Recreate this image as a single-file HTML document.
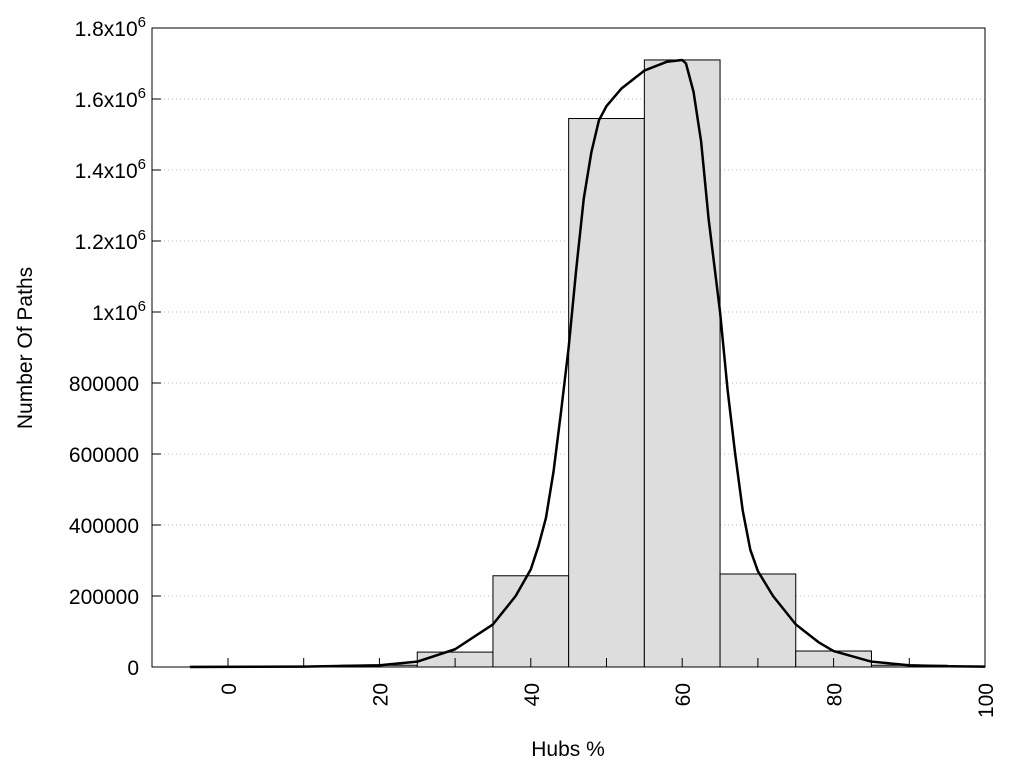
<!DOCTYPE html>
<html><head><meta charset="utf-8"><style>body{margin:0;background:#fff}svg{display:block;font-family:"Liberation Sans",Arial,sans-serif}</style></head>
<body>
<svg id="s" width="1024" height="768" xmlns="http://www.w3.org/2000/svg"></svg>
<script>
const L=152,R=985,T=28,B=667;
const X=u=>228+(u)*(985-228)/100;
const Y=v=>B-v*(B-T)/1.8e6;
let h='';
for(let i=1;i<9;i++){const y=Y(i*2e5);h+=`<line x1="${L}" x2="${R}" y1="${y}" y2="${y}" stroke="#bbb" stroke-dasharray="1,3"/>`;}
const bars=[[0,2000],[10,1500],[20,5000],[30,42000],[40,257000],[50,1545000],[60,1710000],[70,262000],[80,45000],[90,5000]];
for(const [c,v] of bars){const x1=X(c-5),x2=X(c+5),y=Y(v);h+=`<rect x="${x1}" y="${y}" width="${x2-x1}" height="${B-y}" fill="#ddd" stroke="#000" stroke-width="1"/>`;}
const pts=[[-5,0],[10,1000],[20,5000],[25,15000],[30,50000],[35,120000],[38,200000],[40,275000],[41,340000],[42,420000],[43,550000],[44,720000],[45,900000],[46,1120000],[47,1320000],[48,1450000],[49,1540000],[50,1580000],[52,1630000],[55,1680000],[58,1705000],[60,1710000],[60.5,1700000],[61.5,1620000],[62.5,1480000],[63.5,1260000],[65,1000000],[66,780000],[67,600000],[68,440000],[69,330000],[70,270000],[72,200000],[75,120000],[78,70000],[80,45000],[85,15000],[90,5000],[95,2000],[100,1000]];
h+=`<polyline fill="none" stroke="#000" stroke-width="2.5" stroke-linejoin="round" points="${pts.map(p=>X(p[0])+','+Y(p[1])).join(' ')}"/>`;
h+=`<rect x="${L}" y="${T}" width="${R-L}" height="${B-T}" fill="none" stroke="#000"/>`;
for(let u=0;u<=100;u+=10){const x=X(u);h+=`<line x1="${x}" x2="${x}" y1="${B}" y2="${B-9}" stroke="#000"/>`;}
for(let u=0;u<=100;u+=20){const x=X(u);h+=`<text transform="translate(${x+8},${683}) rotate(-90)" text-anchor="end" font-size="21">${u}</text>`;}
const sup=t=>`${t}x10<tspan dy="-9" font-size="15">6</tspan>`;
const yl=['0','200000','400000','600000','800000',sup('1'),sup('1.2'),sup('1.4'),sup('1.6'),sup('1.8')];
yl.forEach((t,i)=>{const y=Y(i*2e5);h+=`<line x1="${L}" x2="${L+9}" y1="${y}" y2="${y}" stroke="#000"/><text x="${i>=5?146:139}" y="${y+8}" text-anchor="end" font-size="21">${t}</text>`;});
h+=`<text x="568" y="756" text-anchor="middle" font-size="21">Hubs %</text>`;
h+=`<text transform="translate(32,348) rotate(-90)" text-anchor="middle" font-size="21">Number Of Paths</text>`;
document.getElementById('s').innerHTML=h;
</script>
</body></html>
